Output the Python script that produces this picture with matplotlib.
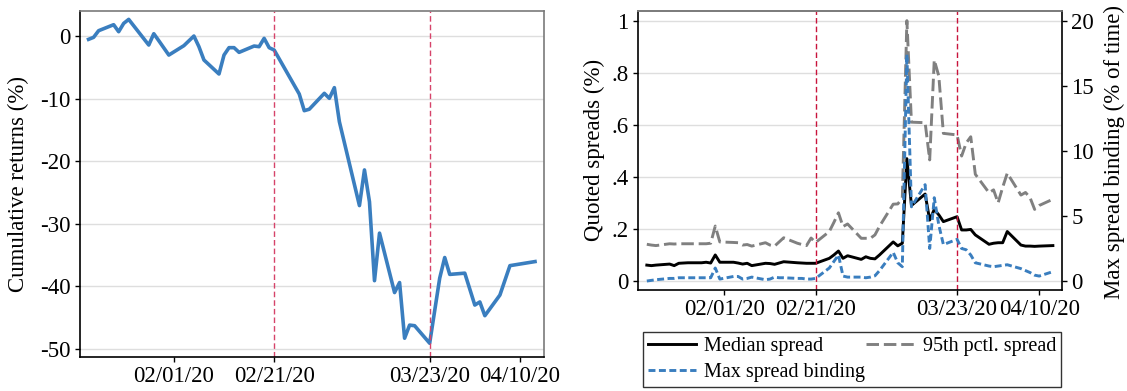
import matplotlib
matplotlib.use("Agg")
import matplotlib.pyplot as plt
import numpy as np
import pandas as pd

plt.rcParams['font.family'] = ['Liberation Serif', 'DejaVu Serif']
plt.rcParams['axes.unicode_minus'] = False
plt.rcParams['lines.scale_dashes'] = False

# ---- data ----
ret_dates = ['2020-01-15', '2020-01-16', '2020-01-17', '2020-01-20', '2020-01-21', '2020-01-22',
             '2020-01-23', '2020-01-27', '2020-01-28', '2020-01-29', '2020-01-31',
             '2020-02-03', '2020-02-05', '2020-02-06', '2020-02-07', '2020-02-10', '2020-02-11',
             '2020-02-12', '2020-02-13', '2020-02-14', '2020-02-17', '2020-02-18', '2020-02-19',
             '2020-02-20', '2020-02-21', '2020-02-26', '2020-02-27', '2020-02-28',
             '2020-03-02', '2020-03-03', '2020-03-04', '2020-03-05', '2020-03-09', '2020-03-10',
             '2020-03-11', '2020-03-12', '2020-03-13', '2020-03-16', '2020-03-17', '2020-03-18',
             '2020-03-19', '2020-03-20', '2020-03-23', '2020-03-25', '2020-03-26', '2020-03-27',
             '2020-03-30', '2020-04-01', '2020-04-02', '2020-04-03', '2020-04-06', '2020-04-08',
             '2020-04-13']
ret_values = [-0.53, -0.21, 0.85, 1.81, 0.69, 2.02, 2.66, -1.44, 0.37, -0.75, -3.04,
              -1.54, 0.0, -1.70, -3.83, -6.07, -3.04, -1.86, -1.86, -2.61, -1.60, -1.70, -0.37,
              -1.86, -2.24, -9.27, -11.93, -11.70,
              -9.16, -9.96, -8.25, -13.70, -27.10, -21.40, -26.50, -39.10, -31.50, -41.00,
              -39.40, -48.30, -46.20, -46.30, -49.10, -38.70, -35.40, -38.10, -37.90,
              -43.00, -42.50, -44.70, -41.40, -36.70, -36.05]

spread_dates = pd.bdate_range('2020-01-15', '2020-04-13')
median_spread = [0.061, 0.059, 0.061, 0.065, 0.059, 0.068, 0.069, 0.070, 0.070, 0.072, 0.069, 0.100, 0.072,
                 0.072, 0.069, 0.065, 0.068, 0.059, 0.068, 0.067, 0.064, 0.069, 0.074,
                 0.070, 0.069, 0.068, 0.068, 0.068, 0.087, 0.100, 0.115, 0.087, 0.097,
                 0.083, 0.093, 0.087, 0.085, 0.100, 0.150, 0.135, 0.145, 0.470, 0.290,
                 0.334, 0.234, 0.275, 0.254, 0.228, 0.247, 0.196, 0.196, 0.198, 0.177, 0.141, 0.145,
                 0.147, 0.147, 0.190, 0.138, 0.134, 0.134, 0.133, 0.134, 0.136]
p95_spread = [0.141, 0.138, 0.136, 0.143, 0.142, 0.143, 0.143, 0.143, 0.143, 0.143, 0.145, 0.211, 0.150,
              0.148, 0.147, 0.138, 0.140, 0.134, 0.147, 0.138, 0.134, 0.150, 0.166,
              0.145, 0.140, 0.136, 0.165, 0.148, 0.190, 0.225, 0.262, 0.209, 0.219,
              0.164, 0.164, 0.164, 0.177, 0.210, 0.295, 0.296, 0.318, 1.000, 0.610,
              0.608, 0.465, 0.849, 0.787, 0.567, 0.561, 0.480, 0.530, 0.554, 0.410, 0.339, 0.350,
              0.300, 0.360, 0.414, 0.330, 0.340, 0.320, 0.275, 0.290, 0.314]
max_binding = [0.0, 0.05, 0.1, 0.2, 0.2, 0.25, 0.25, 0.25, 0.25, 0.25, 0.25, 1.0, 0.15,
               0.35, 0.35, 0.15, 0.2, 0.3, 0.1, 0.15, 0.3, 0.25, 0.25,
               0.2, 0.2, 0.15, 0.15, 0.2, 1.0, 1.5, 2.0, 0.38, 0.3,
               0.3, 0.25, 0.3, 0.4, 0.8, 2.2, 1.4, 1.1, 17.4, 5.7,
               7.4, 2.5, 6.4, 4.3, 2.8, 3.2, 2.5, 2.4, 2.0, 1.4, 1.15, 1.1,
               1.15, 1.2, 1.25, 0.95, 0.8, 0.65, 0.45, 0.38, 0.72]

event_dates = ['2020-02-21', '2020-03-23']
tick_dates = ['2020-02-01', '2020-02-21', '2020-03-23', '2020-04-10']
tick_labels = ['02/01/20', '02/21/20', '03/23/20', '04/10/20']

BLUE = '#3a7ebf'
GRAY = '#808080'
FS = 16.5

W, H = 1127, 391
fig = plt.figure(figsize=(W / 100, H / 100), dpi=100)
ax1 = fig.add_axes([80 / W, 1 - 357 / H, 464 / W, 346 / H])
ax2 = fig.add_axes([637.7 / W, 1 - 290 / H, (1062 - 637.7) / W, 279 / H])
ax2r = ax2.twinx()


def style_axes(ax):
    ax.grid(axis='y', color='#dedede', lw=1.0)
    ax.set_axisbelow(True)
    for s in ['left', 'bottom']:
        ax.spines[s].set_color('black')
        ax.spines[s].set_linewidth(1.2)
    for s in ['top', 'right']:
        ax.spines[s].set_color('#7a7a7a')
        ax.spines[s].set_linewidth(1.2)
    ax.tick_params(direction='out', length=3.6, width=1, labelsize=FS, pad=3)
    ax.set_xticks(pd.to_datetime(tick_dates).values)
    ax.set_xticklabels(tick_labels)


# left panel: cumulative returns
ax1.plot(pd.to_datetime(ret_dates).values, ret_values, color=BLUE, lw=2.6)
for d in event_dates:
    ax1.axvline(np.datetime64(d), color='#d6436a', lw=1.0, dashes=(4, 2.2))
style_axes(ax1)
ax1.set_xlim(np.datetime64('2020-01-13T07:00'), np.datetime64('2020-04-14T19:00'))
ax1.set_ylim(-51.3, 4.0)
ax1.set_yticks([0, -10, -20, -30, -40, -50])
fig.text(18 / W, 1 - 184 / H, 'Cumulative returns (%)', rotation=90, ha='center', va='center',
         fontsize=FS)

# right panel: spreads
x = spread_dates.values
h_med, = ax2.plot(x, median_spread, color='black', lw=2.1, label='Median spread')
h_p95, = ax2.plot(x, p95_spread, color=GRAY, lw=2.1, dashes=(9, 3.5), label='95th pctl. spread')
h_max, = ax2r.plot(x, max_binding, color=BLUE, lw=2.1, dashes=(5, 2.5), label='Max spread binding')
for d in event_dates:
    ax2.axvline(np.datetime64(d), color='#c8143c', lw=1.0, dashes=(4, 2.2))
style_axes(ax2)
ax2.spines['right'].set_visible(False)
ax2.set_xlim(np.datetime64('2020-01-13'), np.datetime64('2020-04-15'))
ax2.set_ylim(-0.0346, 1.037)
ax2.set_yticks([0, 0.2, 0.4, 0.6, 0.8, 1.0])
ax2.set_yticklabels(['0', '.2', '.4', '.6', '.8', '1'])

ax2r.set_ylim(-0.69, 20.74)
ax2r.set_yticks([0, 5, 10, 15, 20])
ax2r.tick_params(direction='out', length=3.6, width=1, labelsize=FS, pad=3)
for s in ['left', 'bottom']:
    ax2r.spines[s].set_visible(False)
ax2r.spines['top'].set_color('#7a7a7a')
ax2r.spines['top'].set_linewidth(1.2)
ax2r.spines['right'].set_color('black')
ax2r.spines['right'].set_linewidth(1.2)

fig.text(594 / W, 1 - 150 / H, 'Quoted spreads (%)', rotation=90, ha='center', va='center',
         fontsize=FS)
fig.text(1114 / W, 1 - 152 / H, 'Max spread binding (% of time)', rotation=90, ha='center',
         va='center', fontsize=FS)

leg = fig.legend(handles=[h_med, h_max, h_p95],
                 labels=['Median spread', 'Max spread binding', '95th pctl. spread'],
                 ncol=2, loc='upper left', bbox_to_anchor=(643 / W, 1 - 331.7 / H),
                 fontsize=14.5, frameon=True, fancybox=False, edgecolor='black',
                 borderaxespad=0, borderpad=0.25, handlelength=2.4, handletextpad=0.4,
                 columnspacing=0.05, labelspacing=0.35)
leg.get_frame().set_linewidth(1.0)

fig.savefig('out.png', dpi=100)
